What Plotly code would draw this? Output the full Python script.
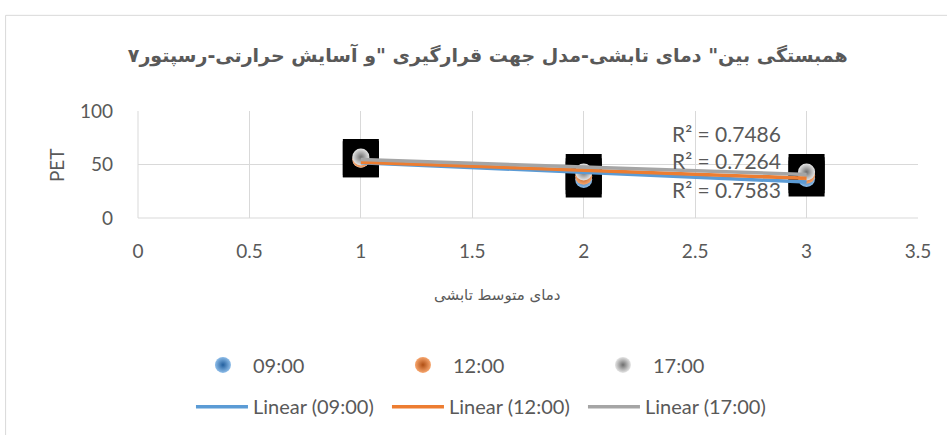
import numpy as np
import plotly.graph_objects as go

# ---- data ----
x_vals = [1, 2, 3]
series_names = ["09:00", "12:00", "17:00"]
pet_0900 = [55, 36, 37]
pet_1200 = [55, 39, 40]
pet_1700 = [57, 43, 43]
r2_labels = ["R² = 0.7486", "R² = 0.7264", "R² = 0.7583"]
x_ticks = [0, 0.5, 1, 1.5, 2, 2.5, 3, 3.5]
y_ticks = [0, 50, 100]
title_text = 'همبستگی بین" دمای تابشی-مدل جهت قرارگیری "و آسایش حرارتی-رسپتور۷'
x_title = "دمای متوسط تابشی"
y_title = "PET"

colors = ["#5b9bd5", "#ed7d31", "#a5a5a5"]
center_c = ["#8ebde9", "#f7a66e", "#e6e6e6"]
edge_c = ["#23609f", "#b04f14", "#6e6e6e"]
all_series = [pet_0900, pet_1200, pet_1700]

W, H = 947, 435
L, R, T, B = 138, 28.5, 110.7, 216.7
pw = W - L - R
ph = H - T - B

def px2paper_x(px):
    return (px - L) / pw

def py2paper_y(py):
    return (H - B - py) / ph

fig = go.Figure()

# black square backdrops behind markers (as in the reference rendering)
bx, by = [], []
for s in all_series:
    bx += x_vals
    by += s
fig.add_trace(go.Scatter(x=bx, y=by, mode="markers", showlegend=False, hoverinfo="skip",
                         marker=dict(symbol="square", size=36, color="black", line=dict(width=0))))

# sphere-like markers
for name, s, cc, ec in zip(series_names, all_series, center_c, edge_c):
    fig.add_trace(go.Scatter(x=x_vals, y=s, mode="markers", name=name, legend="legend",
                             marker=dict(symbol="circle", size=17, color=cc,
                                         gradient=dict(type="radial", color=ec),
                                         line=dict(width=0))))

# linear trendlines
xs = np.array(x_vals, dtype=float)
for name, s, c in zip(series_names, all_series, colors):
    k, b = np.polyfit(xs, np.array(s, dtype=float), 1)
    fig.add_trace(go.Scatter(x=[xs.min(), xs.max()], y=[k * xs.min() + b, k * xs.max() + b],
                             mode="lines", name=f"Linear ({name})", legend="legend2",
                             line=dict(color=c, width=3.5)))

font_txt = "Lato, 'DejaVu Sans', sans-serif"
grey_txt = "#595959"

fig.update_layout(
    width=W, height=H,
    margin=dict(l=L, r=R, t=T, b=B, autoexpand=False),
    paper_bgcolor="white", plot_bgcolor="white",
    font=dict(family=font_txt, color=grey_txt, size=19),
    title=dict(text=f"<b>{title_text}</b>", x=px2paper_x(488), xref="paper", xanchor="center",
               y=1 - 55 / H, yref="container", yanchor="middle",
               font=dict(family="'DejaVu Sans', sans-serif", size=19, color=grey_txt)),
    showlegend=True,
    legend=dict(orientation="h", x=px2paper_x(193), xanchor="left", y=py2paper_y(366), yanchor="middle",
                entrywidth=135, entrywidthmode="pixels", itemwidth=50,
                font=dict(family=font_txt, size=20, color=grey_txt),
                bgcolor="rgba(0,0,0,0)"),
    legend2=dict(orientation="h", x=px2paper_x(191), xanchor="left", y=py2paper_y(408), yanchor="middle",
                 entrywidth=129, entrywidthmode="pixels", itemwidth=52,
                 font=dict(family=font_txt, size=20, color=grey_txt),
                 bgcolor="rgba(0,0,0,0)"),
    xaxis=dict(range=[0, 3.5], tickvals=x_ticks, ticktext=[str(v) for v in x_ticks],
               showgrid=True, gridcolor="#d9d9d9", gridwidth=1, zeroline=False,
               showline=False, ticks="", ticklabelstandoff=20,
               tickfont=dict(family=font_txt, size=19, color=grey_txt)),
    yaxis=dict(range=[0, 100], tickvals=y_ticks, showgrid=True, gridcolor="#d9d9d9", gridwidth=1,
               zeroline=False, showline=False, ticks="", ticklabelstandoff=24,
               tickfont=dict(family=font_txt, size=19, color=grey_txt)),
)

# outer chart frame
fig.add_shape(type="rect", xref="paper", yref="paper",
              x0=px2paper_x(5.5), x1=px2paper_x(960), y0=py2paper_y(450), y1=py2paper_y(14.5),
              line=dict(color="#d9d9d9", width=1), fillcolor="rgba(0,0,0,0)", layer="below")
# plot area boundary lines (x=0 and y=0 grid lines)
fig.add_shape(type="line", xref="paper", yref="paper", x0=0, x1=0, y0=0, y1=1,
              line=dict(color="#d9d9d9", width=1))
fig.add_shape(type="line", xref="paper", yref="paper", x0=0, x1=1, y0=0, y1=0,
              line=dict(color="#d9d9d9", width=1))

# axis titles
fig.add_annotation(text=x_title, xref="paper", yref="paper", x=px2paper_x(497), y=py2paper_y(296),
                   showarrow=False, xanchor="center", yanchor="middle",
                   font=dict(family="'DejaVu Sans', sans-serif", size=15, color=grey_txt))
fig.add_annotation(text=y_title, xref="paper", yref="paper", x=px2paper_x(57), y=py2paper_y(165),
                   showarrow=False, textangle=-90, xanchor="center", yanchor="middle",
                   font=dict(family=font_txt, size=19, color=grey_txt))

# R² labels
for lbl, py in zip(r2_labels, [133, 160, 190]):
    fig.add_annotation(text=lbl, xref="paper", yref="paper", x=px2paper_x(727), y=py2paper_y(py),
                       showarrow=False, xanchor="center", yanchor="middle",
                       font=dict(family=font_txt, size=21, color=grey_txt))

fig.write_html("out.html", config={"displayModeBar": False},
               post_script="document.body.style.margin='0px';document.body.style.overflow='hidden';")
